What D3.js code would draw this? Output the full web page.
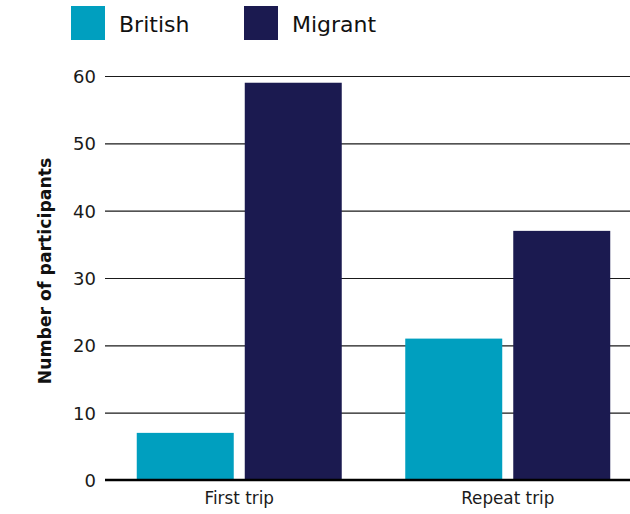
<!DOCTYPE html>
<html>
<head>
<meta charset="utf-8">
<script src="https://cdn.jsdelivr.net/npm/d3@7"></script>
<style>
  html, body { margin: 0; padding: 0; background: #fff; }
  svg { display: block; font-family: "DejaVu Sans", sans-serif; }
</style>
</head>
<body>
<svg id="chart" width="630" height="514"></svg>
<script>
// Participants by trip type and origin
const categories = ["First trip", "Repeat trip"];
const seriesNames = ["British", "Migrant"];
const british = [7, 21];
const migrant = [59, 37];
const yTicks = [0, 10, 20, 30, 40, 50, 60];
const colors = ["#009fbf", "#1b1a50"];

const svg = d3.select("#chart");
const margin = { left: 105, top: 76, bottom: 480 };
const plotRight = 642;

const data = categories.map((c, i) => ({ category: c, values: [british[i], migrant[i]] }));

const x0 = d3.scaleBand().domain(categories).range([margin.left, plotRight]).paddingInner(0).paddingOuter(0);
const x1 = d3.scaleBand().domain(seriesNames).range([0, x0.bandwidth()]).paddingInner(0.102).paddingOuter(0.294);
const y = d3.scaleLinear().domain([0, 60]).range([margin.bottom, margin.top]);

// Gridlines and tick labels
const yAxis = d3.axisLeft(y).tickValues(yTicks).tickSize(0).tickPadding(9);
const gy = svg.append("g").attr("transform", `translate(${margin.left},0)`).call(yAxis);
gy.select(".domain").remove();
gy.selectAll(".tick text")
  .attr("font-family", "DejaVu Sans")
  .attr("font-size", 18).attr("fill", "#1a1a1a").attr("dy", "0.36em");
gy.selectAll(".tick line")
  .attr("x2", 630 - margin.left)
  .attr("stroke", "#1a1a1a")
  .attr("stroke-width", 1.2);

// Bars
const groups = svg.append("g").selectAll("g").data(data).join("g")
  .attr("transform", d => `translate(${x0(d.category)},0)`);
groups.selectAll("rect")
  .data(d => d.values.map((v, i) => ({ key: seriesNames[i], value: v, i })))
  .join("rect")
  .attr("x", d => x1(d.key))
  .attr("width", x1.bandwidth())
  .attr("y", d => y(d.value))
  .attr("height", d => y(0) - y(d.value))
  .attr("fill", d => colors[d.i]);

// Baseline
svg.append("line")
  .attr("x1", margin.left).attr("x2", 630)
  .attr("y1", y(0)).attr("y2", y(0))
  .attr("stroke", "#000").attr("stroke-width", 2.5);

// Category labels
const xAxis = d3.axisBottom(x0).tickSize(0).tickPadding(12);
const gx = svg.append("g").attr("transform", `translate(0,${y(0)})`).call(xAxis);
gx.select(".domain").remove();
gx.selectAll(".tick text")
  .attr("font-family", "DejaVu Sans")
  .attr("font-size", 16.8).attr("fill", "#1a1a1a");

// Axis title
svg.append("text")
  .attr("transform", "translate(51,271) rotate(-90)")
  .attr("text-anchor", "middle")
  .attr("font-size", 17.3)
  .attr("font-weight", 700)
  .attr("fill", "#111")
  .text("Number of participants");

// Legend
const legendX = [71, 244];
const legend = svg.append("g").selectAll("g").data(seriesNames).join("g")
  .attr("transform", (d, i) => `translate(${legendX[i]},6)`);
legend.append("rect").attr("width", 34).attr("height", 34).attr("fill", (d, i) => colors[i]);
legend.append("text")
  .attr("x", 48).attr("y", 26)
  .attr("font-size", 22)
  .attr("fill", "#111")
  .text(d => d);
</script>
</body>
</html>
